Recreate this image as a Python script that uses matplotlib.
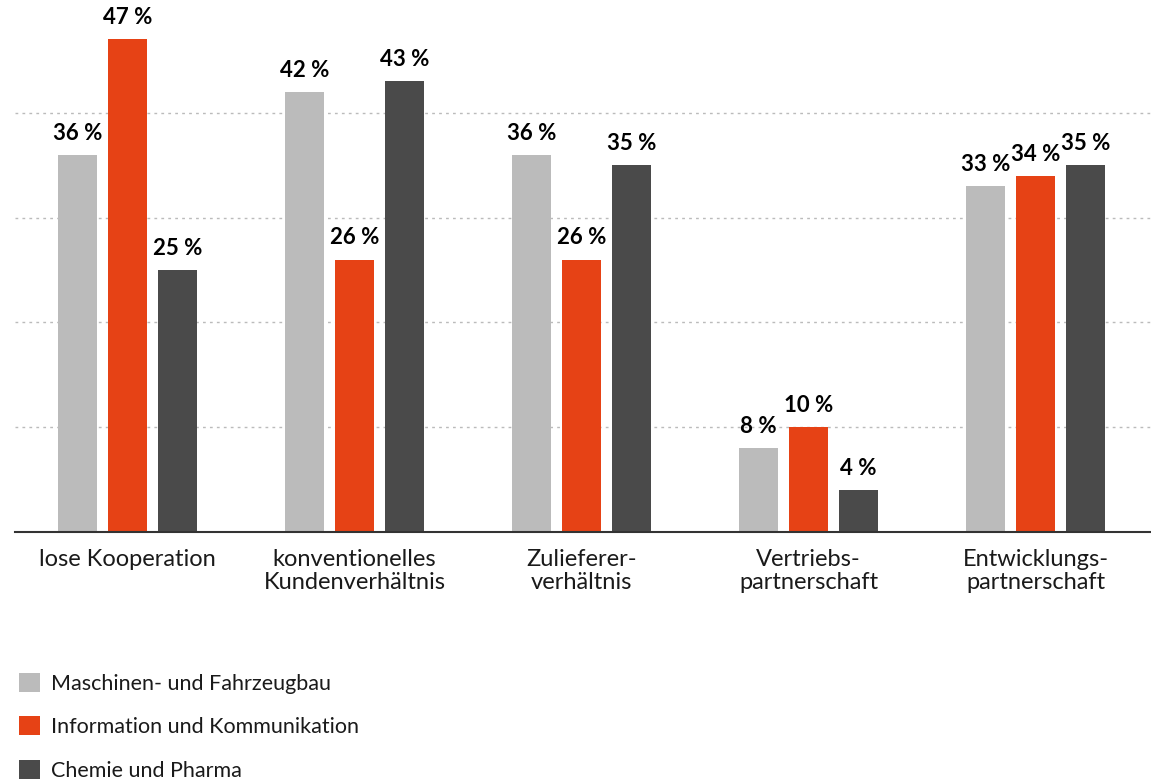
import numpy as np
import matplotlib.pyplot as plt
from matplotlib.patches import Patch

plt.rcParams['font.family'] = ['Lato', 'DejaVu Sans']

categories = ['lose Kooperation', 'konventionelles\nKundenverhältnis',
              'Zulieferer-\nverhältnis', 'Vertriebs-\npartnerschaft',
              'Entwicklungs-\npartnerschaft']
series_names = ['Maschinen- und Fahrzeugbau', 'Information und Kommunikation',
                'Chemie und Pharma']
maschinen = [36, 42, 36, 8, 33]
information = [47, 26, 26, 10, 34]
chemie = [25, 43, 35, 4, 35]

colors = ['#bbbbbb', '#e64215', '#4a4a4a']
text_col = '#1a1a1a'

fig = plt.figure(figsize=(11.51, 7.79), dpi=100, facecolor='white')
ax = fig.add_axes([15/1151, 1-532/779, 1-15/1151, 524/779])

x = np.arange(len(categories))
offs = [-50/227, 0, 50/227]
w = 39/227
for vals, off, c in zip([maschinen, information, chemie], offs, colors):
    bars = ax.bar(x + off, vals, width=w, color=c, zorder=3)
    for b, v in zip(bars, vals):
        ax.annotate(f'{v} %', (b.get_x() + b.get_width()/2, v),
                    xytext=(0, 8), textcoords='offset points',
                    ha='center', va='bottom', fontsize=16, fontweight='bold',
                    color='black', zorder=4)

ax.set_xlim((15-127.5)/227, (1151-127.5)/227)
ax.set_ylim(0, 50)
ax.set_yticks([10, 20, 30, 40])
ax.yaxis.grid(True, linestyle=(0, (2, 3)), color='#bbbbbb', linewidth=1, zorder=0)
ax.tick_params(axis='y', left=False, labelleft=False)
ax.set_xticks(x)
ax.set_xticklabels(categories, fontsize=17, color=text_col, linespacing=1.15)
ax.tick_params(axis='x', length=0, pad=12)
for s in ['top', 'right', 'left']:
    ax.spines[s].set_visible(False)
ax.spines['bottom'].set_color('#333333')
ax.spines['bottom'].set_linewidth(1.5)
ax.spines['bottom'].set_zorder(5)

handles = [Patch(facecolor=c, edgecolor='none') for c in colors]
fig.legend(handles, series_names, loc='upper left', bbox_to_anchor=(10/1151, 1-664/779),
           frameon=False, fontsize=15.5, handlelength=1.0, handleheight=1.0,
           handletextpad=0.5, labelspacing=1.05, labelcolor=text_col, borderaxespad=0)

fig.savefig('out.png', dpi=100, facecolor='white')
